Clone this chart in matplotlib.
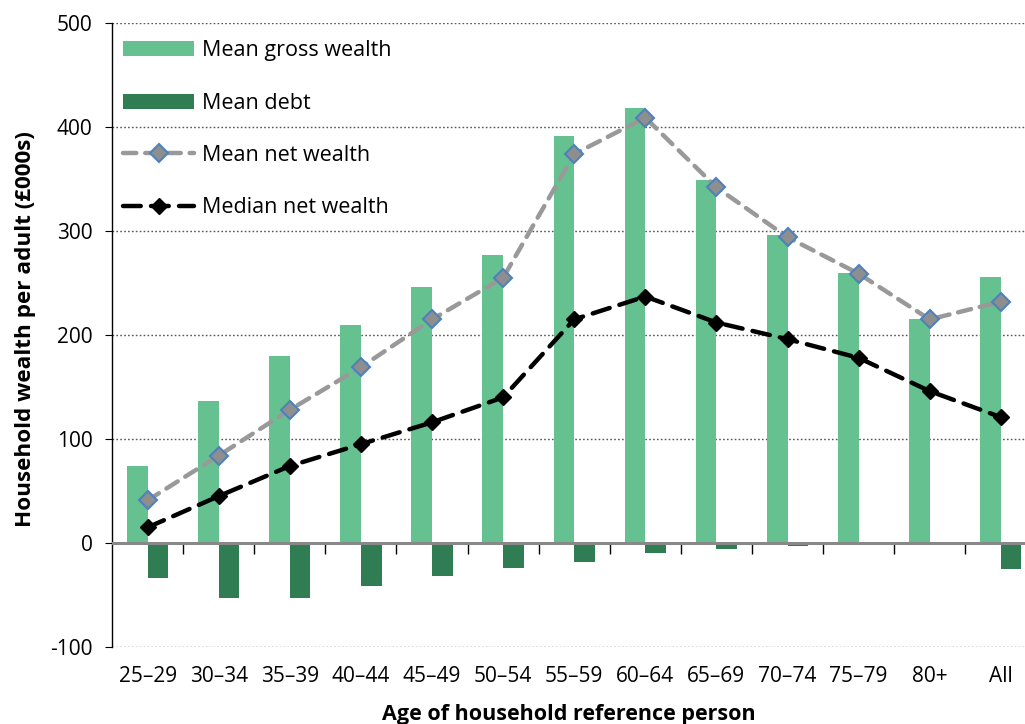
import numpy as np
import matplotlib.pyplot as plt

plt.rcParams['font.family'] = ['Open Sans', 'DejaVu Sans']
plt.rcParams['axes.unicode_minus'] = False

# data (£000s per adult)
ages = ["25–29", "30–34", "35–39", "40–44", "45–49", "50–54", "55–59",
        "60–64", "65–69", "70–74", "75–79", "80+", "All"]
gross_wealth = [74, 137, 180, 210, 246, 277, 391, 418, 349, 296, 260, 215, 256]
mean_debt = [-34, -53, -53, -41, -32, -24, -18, -10, -6, -3, -2, -1, -25]
mean_net = [41, 84, 128, 169, 215, 255, 374, 409, 342, 294, 259, 215, 232]
median_net = [15, 45, 74, 95, 116, 140, 215, 237, 212, 196, 178, 146, 121]

x = np.arange(len(ages))
w = 0.29

fig = plt.figure(figsize=(10.25, 7.24), dpi=100)
ax = fig.add_axes([0.1093, 0.1064, 0.8907, 0.8618])

# gridlines
ax.set_ylim(-100, 500)
ax.set_yticks([-100, 0, 100, 200, 300, 400, 500])
ax.yaxis.grid(True, linestyle=(0, (1.2, 1.6)), color='#555555', linewidth=1.0)
ax.set_axisbelow(True)

b1 = ax.bar(x - w / 2, gross_wealth, w, color='#65C290', label='Mean gross wealth', zorder=2)
b2 = ax.bar(x + w / 2, mean_debt, w, color='#307C53', label='Mean debt', zorder=2)
ax.axhline(0, color='#888888', linewidth=2.2, zorder=3)

l1, = ax.plot(x, mean_net, color='#999999', linewidth=3.2, dashes=(3, 2),
              dash_capstyle='round', marker='D', markersize=9.5,
              markerfacecolor='#8E8E8E', markeredgecolor='#4F81BD', markeredgewidth=1.5,
              label='Mean net wealth', zorder=4)
l2, = ax.plot(x, median_net, color='black', linewidth=3.2, dashes=(4, 2.3),
              dash_capstyle='round', marker='D', markersize=8.5,
              markerfacecolor='black', markeredgecolor='black',
              label='Median net wealth', zorder=5)

ax.set_xlim(-0.5, 12.34)
ax.set_xticks(x)
ax.set_xticklabels(ages, fontsize=15)
ax.tick_params(axis='x', length=0, pad=14)
ax.tick_params(axis='y', labelsize=15, length=5, direction='out', color='black', pad=9)

for s in ['top', 'right', 'bottom']:
    ax.spines[s].set_visible(False)
ax.spines['left'].set_color('black')
ax.spines['left'].set_linewidth(1.0)

# category boundary ticks on the zero line
sec = ax.secondary_xaxis(1 / 6)
sec.set_xticks(x[:-1] + 0.5)
sec.set_xticklabels([])
sec.tick_params(axis='x', length=8, direction='out', color='black', width=1)
sec.spines['bottom'].set_visible(False)

ax.set_xlabel('Age of household reference person', fontsize=15.5, fontweight='bold', labelpad=12)
ax.set_ylabel('Household wealth per adult (£000s)', fontsize=16.2, fontweight='bold')
ax.yaxis.set_label_coords(-0.083, 0.509)

ax.legend([b1, b2, l1, l2], ['Mean gross wealth', 'Mean debt', 'Mean net wealth', 'Median net wealth'],
          loc='upper left', bbox_to_anchor=(0.012, 0.972), frameon=False, fontsize=15.5,
          handlelength=3.3, handletextpad=0.35, labelspacing=1.45, borderpad=0,
          borderaxespad=0)

fig.savefig('out.png', dpi=100)
